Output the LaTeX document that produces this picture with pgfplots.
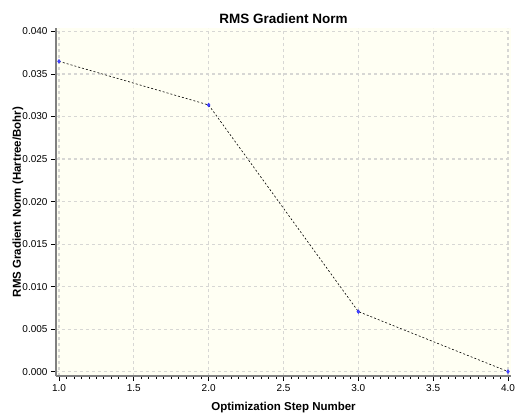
\documentclass[border=0pt]{standalone}
\usepackage{fontspec}
\setmainfont{Liberation Sans}
\usepackage{pgfplots}
\pgfplotsset{compat=1.18}
\definecolor{bgivory}{RGB}{255,255,243}
\definecolor{gridgray}{RGB}{215,215,212}
\definecolor{axgray}{RGB}{128,128,128}
\begin{document}
\begin{tikzpicture}
\begin{axis}[
  scale only axis, width=455pt, height=348pt,
  xmin=0.98, xmax=4.02, ymin=-0.0005, ymax=0.0404,
  axis background/.style={fill=bgivory},
  axis x line*=bottom, axis y line*=left,
  axis line style={axgray, line width=1.5pt, -},
  xtick={1,1.5,...,4}, ytick={0,0.005,...,0.0401},
  minor x tick num=9,
  tick align=outside,
  major tick length=5pt, minor tick length=3pt,
  x tick style={black, line width=0.8pt},
  y tick style={black, line width=0.8pt},
  grid=major,
  major grid style={gridgray, dash pattern=on 3pt off 3pt, line width=1.2pt},
  scaled y ticks=false, scaled x ticks=false,
  /pgf/number format/assume math mode=true,
  xticklabel style={/pgf/number format/.cd, fixed, fixed zerofill, precision=1},
  yticklabel style={/pgf/number format/.cd, fixed, fixed zerofill, precision=3},
  ticklabel style={font=\fontsize{10}{12}\selectfont},
  title={\textbf{RMS Gradient Norm}},
  title style={font=\fontsize{13.5}{15}\selectfont, at={(axis description cs:0.5,1)}, anchor=base, yshift=-1pt},
  xlabel={\textbf{Optimization Step Number}},
  ylabel={\textbf{RMS Gradient Norm (Hartree/Bohr)}},
  label style={font=\fontsize{11.5}{13}\selectfont},
  xlabel style={at={(axis description cs:0.5,0)}, anchor=base, yshift=-34pt},
  ylabel style={at={(axis description cs:-0.0835,0.5)}, anchor=center},
  clip=false,
]
\coordinate (bl) at (rel axis cs:0,0);
\coordinate (tr) at (rel axis cs:1,1);
\addplot[black, line width=0.6pt, dash pattern=on 2pt off 2pt,
  mark=diamond*, mark size=1.8pt,
  mark options={solid, fill=blue!70, draw=blue!80}]
  coordinates {(1,0.03648) (2,0.03135) (3,0.00707) (4,0.00002)};
\end{axis}
\pgfresetboundingbox
\path[use as bounding box] ([shift={(-56pt,-38pt)}]bl) rectangle ([shift={(6pt,28pt)}]tr);
\end{tikzpicture}
\end{document}
